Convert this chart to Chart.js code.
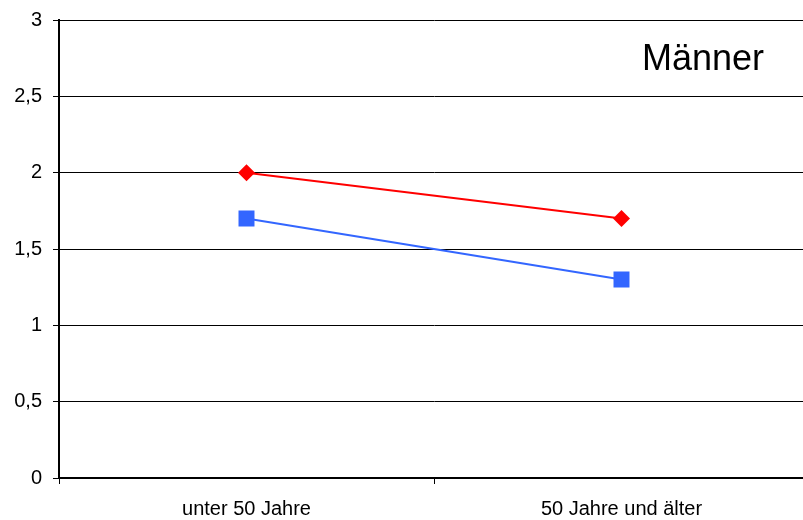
<!DOCTYPE html>
<html>
<head>
<meta charset="utf-8">
<script src="https://cdn.jsdelivr.net/npm/chart.js@4/dist/chart.umd.min.js"></script>
<style>
  html, body { margin: 0; padding: 0; background: #fff; overflow: hidden; }
  #wrap { width: 809px; height: 520px; }
</style>
</head>
<body>
<div id="wrap"><canvas id="c" width="809" height="520"></canvas></div>
<script>
// Age groups on the category axis
const categories = ['unter 50 Jahre', '50 Jahre und älter'];
// Two series, one value per age group
const seriesRed = [2.0, 1.7];
const seriesBlue = [1.7, 1.3];
// Value axis range and panel heading
const yMin = 0, yMax = 3, yStep = 0.5;
const panelTitle = 'Männer';

const FONT = "'Liberation Sans', Arial, sans-serif";

// Heading drawn inside the plot area, top right
const panelTitlePlugin = {
  id: 'panelTitle',
  afterDraw(chart) {
    const { ctx, chartArea } = chart;
    ctx.save();
    ctx.font = '36px ' + FONT;
    ctx.fillStyle = '#000';
    ctx.textAlign = 'center';
    ctx.textBaseline = 'alphabetic';
    ctx.fillText(panelTitle, chartArea.right - 106, chartArea.top + 50);
    ctx.restore();
  }
};

new Chart(document.getElementById('c'), {
  type: 'line',
  data: {
    labels: categories,
    datasets: [
      {
        data: seriesRed,
        borderColor: '#FF0000',
        backgroundColor: '#FF0000',
        borderWidth: 2,
        pointStyle: 'rectRot',
        pointRadius: 8.5,
        pointBorderWidth: 0,
        tension: 0
      },
      {
        data: seriesBlue,
        borderColor: '#3366FF',
        backgroundColor: '#3366FF',
        borderWidth: 2,
        pointStyle: 'rect',
        pointRadius: 11.3,
        pointBorderWidth: 0,
        tension: 0
      }
    ]
  },
  options: {
    responsive: false,
    animation: false,
    layout: { autoPadding: false, padding: { top: 20, right: 0, bottom: 0, left: 0 } },
    plugins: {
      legend: { display: false },
      tooltip: { enabled: false }
    },
    scales: {
      x: {
        type: 'category',
        offset: true,
        grid: {
          offset: true,
          drawOnChartArea: false,
          drawTicks: true,
          tickLength: 6,
          color: '#000',
          lineWidth: 1
        },
        border: { display: true, color: '#000', width: 2 },
        ticks: {
          color: '#000',
          font: { family: FONT, size: 20 },
          padding: 13,
          maxRotation: 0
        },
        afterFit(scale) {
          scale.height = 42;
          scale.paddingLeft = 0;
          scale.paddingRight = 0;
        }
      },
      y: {
        min: yMin,
        max: yMax,
        grid: {
          color: '#000',
          lineWidth: 1,
          tickLength: 6,
          drawTicks: true
        },
        border: { display: true, color: '#000', width: 2 },
        ticks: {
          stepSize: yStep,
          color: '#000',
          font: { family: FONT, size: 20 },
          padding: 11,
          callback: v => String(v).replace('.', ',')
        },
        afterFit(scale) {
          scale.width = 59;
          scale.paddingTop = 0;
          scale.paddingBottom = 0;
        }
      }
    }
  },
  plugins: [panelTitlePlugin]
});
</script>
</body>
</html>
